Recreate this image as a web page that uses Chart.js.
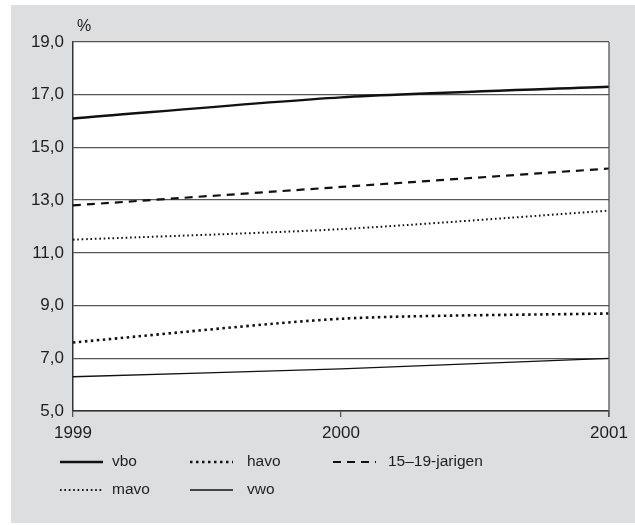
<!DOCTYPE html>
<html>
<head>
<meta charset="utf-8">
<script src="https://cdn.jsdelivr.net/npm/chart.js@4.4.1/dist/chart.umd.min.js"></script>
<style>
  html, body { margin: 0; padding: 0; background: #fff; }
  #wrap { width: 635px; height: 525px; position: relative; }
</style>
</head>
<body>
<div id="wrap"><canvas id="chart" width="635" height="525"></canvas></div>
<script>
// ── Data ─────────────────────────────────────────
const years = ['1999', '2000', '2001'];
const vbo    = [16.1, 16.9, 17.3];
const havo   = [7.6, 8.5, 8.7];
const jarigen = [12.8, 13.5, 14.2];
const mavo   = [11.5, 11.9, 12.6];
const vwo    = [6.3, 6.6, 7.0];
const yTicks = [5, 7, 9, 11, 13, 15, 17, 19];

const FONT = '"Liberation Sans", Arial, sans-serif';
const INK  = '#1e1e1e';

// legend slots: [row, col]
const LEGEND_POS = [[0, 0], [0, 1], [0, 2], [1, 0], [1, 1]];

const series = [
  { label: 'vbo',           data: vbo,     borderWidth: 2.4, borderDash: [] },
  { label: 'havo',          data: havo,    borderWidth: 2.6, borderDash: [2.5, 3.5] },
  { label: '15\u201319-jarigen', data: jarigen, borderWidth: 2.2, borderDash: [8, 6] },
  { label: 'mavo',          data: mavo,    borderWidth: 2.0, borderDash: [1.6, 2.8] },
  { label: 'vwo',           data: vwo,     borderWidth: 1.3, borderDash: [] },
];

// ── Background + frame + legend plugin ───────────
const framePlugin = {
  id: 'frame',
  beforeDraw(chart) {
    const { ctx, chartArea: a } = chart;
    ctx.save();
    ctx.fillStyle = '#dddee0';
    ctx.fillRect(11, 5, 624, 518);
    ctx.fillStyle = '#ffffff';
    ctx.fillRect(a.left, a.top, a.right - a.left, a.bottom - a.top);
    ctx.restore();
  },
  afterDraw(chart) {
    const { ctx, chartArea: a } = chart;
    ctx.save();
    // right border
    ctx.strokeStyle = '#555';
    ctx.lineWidth = 1.3;
    ctx.beginPath();
    ctx.moveTo(a.right, a.top);
    ctx.lineTo(a.right, a.bottom + 6);
    ctx.stroke();
    // unit label
    ctx.fillStyle = INK;
    ctx.font = '16px ' + FONT;
    ctx.textBaseline = 'middle';
    ctx.fillText('%', 77, 27);

    // legend
    const colX = [60, 190, 333];
    const rowY = [462, 490];
    ctx.font = '15.5px ' + FONT;
    chart.data.datasets.forEach((ds, i) => {
      const [r, c] = LEGEND_POS[i];
      const x = colX[c], y = rowY[r];
      ctx.strokeStyle = ds.borderColor;
      ctx.lineWidth = ds.borderWidth;
      ctx.setLineDash(ds.borderDash);
      ctx.beginPath();
      ctx.moveTo(x, y);
      ctx.lineTo(x + 43, y);
      ctx.stroke();
      ctx.setLineDash([]);
      ctx.fillStyle = INK;
      ctx.fillText(ds.label, x + (c === 2 ? 55 : c === 1 ? 57 : 52), y);
    });
    ctx.restore();
  }
};

new Chart(document.getElementById('chart'), {
  type: 'line',
  data: {
    labels: years,
    datasets: series.map((s) => ({
      label: s.label,
      data: s.data,
      borderColor: '#111',
      borderWidth: s.borderWidth,
      borderDash: s.borderDash,
      pointRadius: 0,
      tension: 0.25,
      fill: false,
    })),
  },
  options: {
    responsive: false,
    animation: false,
    layout: { padding: { left: 0, top: 42, right: 26, bottom: 85 } },
    plugins: { legend: { display: false }, tooltip: { enabled: false } },
    scales: {
      x: {
        offset: false,
        grid: { drawOnChartArea: false, color: '#555', lineWidth: 1.3, tickLength: 6 },
        border: { color: '#333', width: 1.5 },
        ticks: { color: INK, font: { family: FONT, size: 17 }, padding: 6, maxRotation: 0 },
        afterFit: (s) => { s.height = 29; },
      },
      y: {
        min: 5,
        max: 19,
        afterBuildTicks: (s) => { s.ticks = yTicks.map((v) => ({ value: v })); },
        grid: { color: '#555', lineWidth: 1.3, drawTicks: false },
        border: { color: '#333', width: 1.5 },
        ticks: {
          color: INK,
          font: { family: FONT, size: 17 },
          padding: 9,
          callback: (v) => Number(v).toFixed(1).replace('.', ','),
        },
        afterFit: (s) => { s.width = 73; },
      },
    },
  },
  plugins: [framePlugin],
});
</script>
</body>
</html>
